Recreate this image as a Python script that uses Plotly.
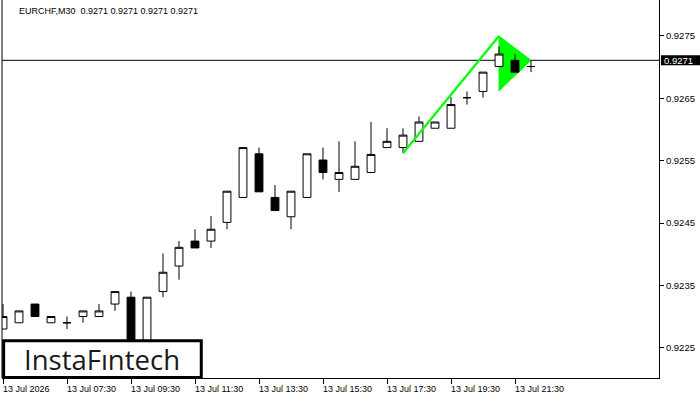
import plotly.graph_objects as go

# ---- data ----
idx = list(range(34))
opens  = [0.92280, 0.92290, 0.92320, 0.92290, 0.92290, 0.92300, 0.92300, 0.92320, 0.92331, 0.92240,
          0.92340, 0.92381, 0.92421, 0.92421, 0.92451, 0.92491, 0.92561, 0.92491, 0.92460, 0.92491,
          0.92551, 0.92520, 0.92520, 0.92531, 0.92571, 0.92571, 0.92581, 0.92602, 0.92602, 0.92651,
          0.92661, 0.92701, 0.92711, 0.92701]
highs  = [0.92320, 0.92309, 0.92320, 0.92300, 0.92300, 0.92309, 0.92320, 0.92340, 0.92340, 0.92331,
          0.92401, 0.92421, 0.92440, 0.92461, 0.92501, 0.92571, 0.92571, 0.92511, 0.92501, 0.92561,
          0.92571, 0.92581, 0.92581, 0.92612, 0.92602, 0.92602, 0.92621, 0.92612, 0.92652, 0.92661,
          0.92692, 0.92733, 0.92721, 0.92711]
lows   = [0.92280, 0.92290, 0.92300, 0.92290, 0.92280, 0.92290, 0.92300, 0.92309, 0.92230, 0.92235,
          0.92331, 0.92359, 0.92410, 0.92410, 0.92440, 0.92491, 0.92500, 0.92470, 0.92440, 0.92491,
          0.92520, 0.92500, 0.92520, 0.92531, 0.92571, 0.92562, 0.92581, 0.92602, 0.92602, 0.92640,
          0.92651, 0.92701, 0.92692, 0.92692]
closes = [0.92300, 0.92309, 0.92300, 0.92300, 0.92290, 0.92309, 0.92309, 0.92340, 0.92236, 0.92331,
          0.92371, 0.92411, 0.92410, 0.92440, 0.92501, 0.92571, 0.92500, 0.92470, 0.92501, 0.92561,
          0.92531, 0.92531, 0.92541, 0.92560, 0.92581, 0.92591, 0.92612, 0.92612, 0.92640, 0.92651,
          0.92692, 0.92721, 0.92692, 0.92701]

current_price = 0.92711
current_label = "0.9271"
title_text = "EURCHF,M30  0.9271 0.9271 0.9271 0.9271"

xtick_idx = [0, 4, 8, 12, 16, 20, 24, 28, 32]
xtick_labels = ["13 Jul 2026", "13 Jul 07:30", "13 Jul 09:30", "13 Jul 11:30", "13 Jul 13:30",
                "13 Jul 15:30", "13 Jul 17:30", "13 Jul 19:30", "13 Jul 21:30"]
ytick_vals = [0.9225, 0.9235, 0.9245, 0.9255, 0.9265, 0.9275]
ytick_labels = ["0.9225", "0.9235", "0.9245", "0.9255", "0.9265", "0.9275"]

pole_x = [25, 31]
pole_y = [0.92562, 0.92750]
flag_x = [31, 33, 31]
flag_y = [0.92750, 0.92711, 0.92662]

GREEN = "#00ff00"
FONT = "Liberation Sans"

fig = go.Figure()

fig.add_trace(go.Candlestick(
    x=idx, open=opens, high=highs, low=lows, close=closes,
    increasing=dict(fillcolor="white", line=dict(color="black", width=1)),
    decreasing=dict(fillcolor="black", line=dict(color="black", width=1)),
    whiskerwidth=0, hoverinfo="skip", showlegend=False))

fig.add_trace(go.Scatter(x=pole_x, y=pole_y, mode="lines",
                         line=dict(color=GREEN, width=2.2),
                         hoverinfo="skip", showlegend=False))

W, H = 700, 400
ml, mr, mt, mb = 2, 41, 0, 22
plot_w = W - ml - mr
px_per_bar = 16.0
x0 = -1.0 / px_per_bar
x1 = x0 + plot_w / px_per_bar

fig.update_layout(
    width=W, height=H,
    margin=dict(l=ml, r=mr, t=mt, b=mb, pad=0),
    paper_bgcolor="white", plot_bgcolor="white",
    showlegend=False, hovermode=False,
    boxgap=0.3,
    xaxis=dict(range=[x0, x1], showgrid=False, zeroline=False,
               showline=True, linecolor="black", linewidth=1,
               ticks="outside", ticklen=5, tickcolor="black", tickwidth=1,
               tickvals=xtick_idx, showticklabels=False,
               rangeslider=dict(visible=False), fixedrange=True),
    yaxis=dict(side="right", range=[0.922014, 0.928077], showgrid=False, zeroline=False,
               showline=True, linecolor="black", linewidth=1,
               ticks="outside", ticklen=4, tickcolor="black", tickwidth=1,
               tickvals=ytick_vals, ticktext=ytick_labels,
               tickfont=dict(family=FONT, size=9.5, color="black"), fixedrange=True),
)

flag_path = "M " + " L ".join(f"{a},{b}" for a, b in zip(flag_x, flag_y)) + " Z"

shapes = []
# flag triangle (below candles)
shapes.append(dict(type="path", xref="x", yref="y", path=flag_path,
                   fillcolor=GREEN, line=dict(color=GREEN, width=1), layer="below"))
# left border
shapes.append(dict(type="line", xref="paper", yref="paper", x0=0, x1=0, y0=0, y1=1,
                   line=dict(color="black", width=1)))
# current price line
shapes.append(dict(type="line", xref="paper", yref="y", x0=0, x1=1,
                   y0=current_price, y1=current_price,
                   line=dict(color="black", width=1), layer="below"))
# price label box
shapes.append(dict(type="rect", xref="paper", yref="y", x0=1.003, x1=1.07,
                   y0=current_price - 0.00008, y1=current_price + 0.00008,
                   fillcolor="black", line=dict(width=0), layer="above"))
# logo box
shapes.append(dict(type="rect", xref="paper", yref="paper", x0=0.0025, x1=0.3033,
                   y0=0.001, y1=0.0987, fillcolor="white",
                   line=dict(color="black", width=3), layer="above"))
fig.update_layout(shapes=shapes)

ann = []
ann.append(dict(text=title_text, xref="paper", yref="paper", x=0.0235, y=1, yshift=-4,
                xanchor="left", yanchor="top", showarrow=False,
                font=dict(family=FONT, size=9, color="black")))
for xi, lab in zip(xtick_idx, xtick_labels):
    ann.append(dict(text=lab, xref="x", yref="paper", x=xi, y=0, yshift=-4,
                    xanchor="left", yanchor="top", showarrow=False, xshift=-2,
                    font=dict(family=FONT, size=9, color="black")))
ann.append(dict(text=current_label, xref="paper", yref="y", x=1.0, y=current_price,
                xanchor="left", yanchor="middle", showarrow=False, xshift=3,
                font=dict(family=FONT, size=9.5, color="white")))
ann.append(dict(text="InstaF\u0131ntech", xref="paper", yref="paper", x=0.152, y=0.05,
                xanchor="center", yanchor="middle", showarrow=False,
                font=dict(family="Open Sans", size=27.5, color="#1a1a1a")))
fig.update_layout(annotations=ann)

fig.write_html("out.html")
